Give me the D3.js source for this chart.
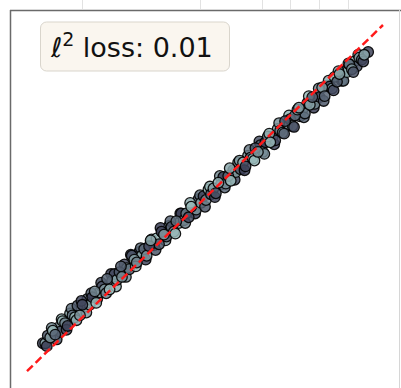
<!DOCTYPE html>
<html><head><meta charset="utf-8">
<script src="https://cdn.jsdelivr.net/npm/d3@7"></script>
<style>html,body{margin:0;padding:0;background:#fff;overflow:hidden}</style>
</head><body>
<svg id="c" width="401" height="388"></svg>
<script>
// True values (x), predicted values (y), colour value (c) — first pass
const trueA = [-1.640,-1.615,-1.590,-1.565,-1.540,-1.515,-1.490,-1.465,-1.440,-1.415,-1.390,-1.365,-1.340,-1.315,-1.290,-1.265,-1.240,-1.215,-1.190,-1.165,-1.140,-1.115,-1.090,-1.065,-1.040,-1.015,-0.990,-0.965,-0.940,-0.915,-0.890,-0.865,-0.840,-0.815,-0.790,-0.765,-0.740,-0.715,-0.690,-0.665,-0.640,-0.615,-0.590,-0.565,-0.540,-0.515,-0.490,-0.465,-0.440,-0.415,-0.390,-0.365,-0.340,-0.315,-0.290,-0.265,-0.240,-0.215,-0.190,-0.165,-0.140,-0.115,-0.090,-0.065,-0.040,-0.015,0.010,0.035,0.060,0.085,0.110,0.135,0.160,0.185,0.210,0.235,0.260,0.285,0.310,0.335,0.360,0.385,0.410,0.435,0.460,0.485,0.510,0.535,0.560,0.585,0.610,0.635,0.660,0.685,0.710,0.735,0.760,0.785,0.810,0.835,0.860,0.885,0.910,0.935,0.960,0.985,1.010,1.035,1.060,1.085,1.110,1.135,1.160,1.185,1.210,1.235,1.260,1.285,1.310,1.335,1.360,1.385,1.410,1.435,1.460,1.485,1.510,1.535,1.560,1.585,1.610,1.650];
const predA = [-1.51,-1.51,-1.43,-1.45,-1.38,-1.42,-1.35,-1.39,-1.28,-1.30,-1.33,-1.20,-1.22,-1.24,-1.12,-1.22,-1.11,-1.13,-1.05,-1.11,-1.03,-0.97,-1.05,-0.98,-0.92,-0.95,-0.84,-0.95,-0.86,-0.79,-0.85,-0.77,-0.82,-0.69,-0.73,-0.74,-0.60,-0.64,-0.67,-0.56,-0.60,-0.53,-0.60,-0.50,-0.43,-0.49,-0.42,-0.48,-0.35,-0.38,-0.40,-0.29,-0.30,-0.35,-0.24,-0.26,-0.16,-0.23,-0.16,-0.20,-0.09,-0.11,-0.12,-0.01,-0.05,0.02,-0.02,0.09,0.04,0.10,0.05,0.16,0.14,0.22,0.15,0.23,0.18,0.29,0.27,0.37,0.30,0.37,0.33,0.44,0.42,0.41,0.52,0.48,0.55,0.48,0.58,0.64,0.58,0.64,0.60,0.72,0.70,0.68,0.80,0.75,0.82,0.75,0.86,0.92,0.85,0.92,0.88,0.99,0.97,1.05,0.98,1.06,1.05,1.15,1.06,1.17,1.16,1.14,1.26,1.21,1.29,1.22,1.32,1.31,1.39,1.34,1.42,1.37,1.46,1.44,1.49,1.52];
const shadeA = [.1,.8,.2,.7,.9,.3,.6,.15,.85,.5,.05,.75,.4,.95,.2,.65,.1,.9,.35,.8,0,.55,.25,.85,.15,.7,.3,.95,.45,.1,.8,.2,.6,.05,.9,.35,.15,.75,.5,0,.85,.3,.65,.1,.8,.4,.95,.2,.05,.7,.25,.9,.15,.6,.35,.85,0,.75,.45,.1,.95,.3,.65,.2,.8,.05,.55,.9,.25,.7,.15,.85,.4,0,.6,.3,.95,.1,.75,.5,.2,.85,.05,.65,.35,.9,.15,.7,.25,.8,0,.55,.95,.3,.1,.75,.45,.9,.2,.65,.05,.85,.35,.7,.15,.95,.4,0,.8,.25,.6,.9,.1,.7,.3,.85,.05,.55,.95,.2,.75,.4,.1,.9,.3,.65,.85,.15,.7,.35,.8,.05];
// second pass
const trueB = [-1.60,-1.55,-1.50,-1.45,-1.40,-1.35,-1.30,-1.25,-1.20,-1.15,-1.10,-1.05,-1.00,-0.95,-0.90,-0.85,-0.80,-0.75,-0.70,-0.65,-0.60,-0.55,-0.50,-0.45,-0.40,-0.35,-0.30,-0.25,-0.20,-0.15,-0.10,-0.05,0.00,0.05,0.10,0.15,0.20,0.25,0.30,0.35,0.40,0.45,0.50,0.55,0.60,0.65,0.70,0.75,0.80,0.85,0.90,0.95,1.00,1.05,1.10,1.15,1.20,1.25,1.30,1.35,1.40,1.45,1.50,1.55,1.60];
const predB = [-1.54,-1.35,-1.47,-1.26,-1.37,-1.15,-1.27,-1.07,-1.19,-0.99,-1.09,-0.88,-0.99,-0.79,-0.92,-0.71,-0.82,-0.59,-0.71,-0.52,-0.64,-0.44,-0.54,-0.31,-0.44,-0.24,-0.37,-0.16,-0.26,-0.05,-0.16,0.03,-0.09,0.12,0.01,0.23,0.11,0.31,0.19,0.39,0.29,0.50,0.39,0.59,0.46,0.67,0.56,0.78,0.67,0.86,0.74,0.94,0.84,1.06,0.94,1.14,1.01,1.22,1.12,1.32,1.22,1.40,1.31,1.49,1.42];
const shadeB = [0,.6,.2,.9,.1,.4,.8,.05,.7,.3,.95,.15,.55,0,.85,.25,.6,.1,.9,.35,.05,.75,.2,0,.65,.3,.95,.1,.5,.85,0,.4,.2,.9,.05,.6,.3,.8,.1,.7,0,.45,.95,.15,.55,.85,.05,.65,.25,.9,.1,.7,.3,.95,0,.6,.2,.85,.1,.75,.4,.9,.15,.7,.05];
// identity reference line endpoints
const refLine = [-1.8, 1.8];
// faint tick marks of the panel above
const topTicks = [-1.244, -0.050, 0.576, 0.859, 1.153, 1.446];
const label = "loss: 0.01";

const svg = d3.select("#c");
const x = d3.scaleLinear().domain([-1.972, 1.972]).range([10, 400]);
const y = d3.scaleLinear().domain([-2.10, 1.956]).range([400, 10]);
const col = d3.scaleLinear().domain([0, 1]).range(["#3a3d55", "#9fc2c0"]).interpolate(d3.interpolateRgb);

svg.selectAll("line.tt").data(topTicks).join("line")
  .attr("x1", d => Math.round(x(d)) + 0.5).attr("x2", d => Math.round(x(d)) + 0.5)
  .attr("y1", 0).attr("y2", 9).attr("stroke", "#e2e2e2").attr("stroke-width", 1);

const pts = [];
trueA.forEach((t, i) => pts.push({t, p: predA[i], c: shadeA[i]}));
trueB.forEach((t, i) => pts.push({t, p: predB[i], c: shadeB[i]}));
pts.sort((a, b) => (a.t * 7.3 % 1) - (b.t * 7.3 % 1));

const g = svg.append("g");
g.selectAll("circle").data(pts).join("circle")
  .attr("cx", d => x(d.t)).attr("cy", d => y(d.p)).attr("r", 5.3)
  .attr("fill", d => col(d.c)).attr("fill-opacity", 0.85)
  .attr("stroke", "#000").attr("stroke-opacity", 0.9).attr("stroke-width", 1.3);

svg.append("line")
  .attr("x1", x(refLine[0])).attr("y1", y(refLine[0]))
  .attr("x2", x(refLine[1])).attr("y2", y(refLine[1]))
  .attr("stroke", "#ff1a1a").attr("stroke-width", 2.5).attr("stroke-dasharray", "8,4");

// frame
svg.append("line").attr("x1", 10).attr("x2", 401).attr("y1", 10.5).attr("y2", 10.5).attr("stroke", "#6a6a6a").attr("stroke-width", 1.5);
svg.append("line").attr("x1", 10.5).attr("x2", 10.5).attr("y1", 10).attr("y2", 388).attr("stroke", "#6a6a6a").attr("stroke-width", 1.5);
svg.append("line").attr("x1", 399.5).attr("x2", 399.5).attr("y1", 10).attr("y2", 388).attr("stroke", "#d6d6d6").attr("stroke-width", 1);

// label box
svg.append("rect").attr("x", 40.5).attr("y", 22).attr("width", 189).attr("height", 49).attr("rx", 6)
  .attr("fill", "#faf6ef").attr("stroke", "#d9d5cc").attr("stroke-width", 1);
const tx = svg.append("text").attr("x", 51).attr("y", 57)
  .attr("font-family", "DejaVu Sans").attr("font-size", 27).attr("fill", "#111");
tx.append("tspan").attr("font-style", "italic").text("ℓ");
tx.append("tspan").attr("font-size", 19).attr("dy", -11).text("2");
tx.append("tspan").attr("dy", 11).text(" " + label);
</script>
</body></html>
